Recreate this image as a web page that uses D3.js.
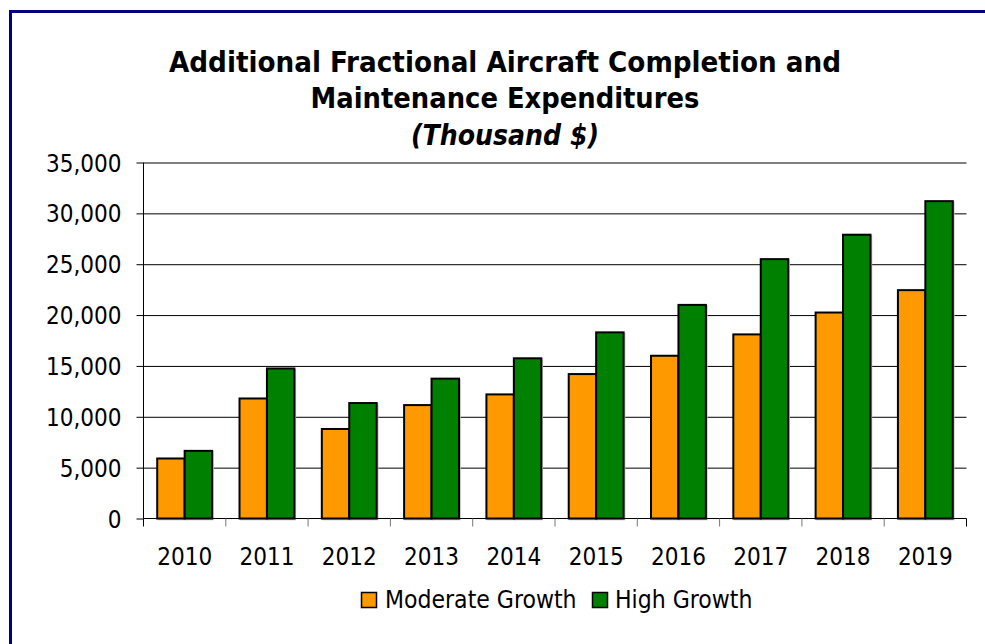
<!DOCTYPE html>
<html>
<head>
<meta charset="utf-8">
<script src="https://cdn.jsdelivr.net/npm/d3@7"></script>
<style>
  html, body { margin: 0; padding: 0; background: #fff; }
  svg { display: block; }
  text { font-family: "DejaVu Sans Condensed", "DejaVu Sans", sans-serif; fill: #000; }
</style>
</head>
<body>
<div id="chart"></div>
<script>
const years = ["2010", "2011", "2012", "2013", "2014", "2015", "2016", "2017", "2018", "2019"];
const seriesNames = ["Moderate Growth", "High Growth"];
const moderate = [5900, 11800, 8800, 11150, 12200, 14200, 16000, 18100, 20250, 22450];
const high = [6650, 14750, 11350, 13750, 15750, 18300, 21000, 25500, 27900, 31200];
const yTicks = [0, 5000, 10000, 15000, 20000, 25000, 30000, 35000];
const titleLines = ["Additional Fractional Aircraft Completion and", "Maintenance Expenditures", "(Thousand $)"];
const colors = ["#FF9900", "#008000"];

const WIDTH = 985, HEIGHT = 644;
const plot = { left: 143.5, right: 966.5, top: 162.5, bottom: 518.5 };

const svg = d3.select("#chart").append("svg")
  .attr("width", WIDTH).attr("height", HEIGHT).attr("viewBox", `0 0 ${WIDTH} ${HEIGHT}`);

// frame (top + left edge only, navy)
svg.append("path")
  .attr("d", `M10.5,${HEIGHT + 2} V11.5 H${WIDTH + 2}`)
  .attr("fill", "none").attr("stroke", "#000080").attr("stroke-width", 3);

// title, each line sized to the width it has in the picture
const titleCx = 505;
const titleSpecs = [
  { y: 72, w: 672, style: "normal" },
  { y: 108, w: 389, style: "normal" },
  { y: 145, w: 188, style: "italic" }
];
titleLines.forEach((t, i) => {
  const s = titleSpecs[i];
  const txt = svg.append("text").attr("x", titleCx).attr("y", s.y)
    .attr("text-anchor", "middle").style("font-weight", "bold").style("font-style", s.style)
    .style("font-size", "26px").text(t);
  const len = txt.node().getComputedTextLength();
  txt.style("font-size", (26 * s.w / len).toFixed(2) + "px");
});

const x = d3.scaleBand().domain(years).range([plot.left, plot.right]).padding(0);
const x1 = d3.scaleBand().domain(seriesNames).range([0, x.bandwidth()]).paddingInner(0).paddingOuter(0.5);
const y = d3.scaleLinear().domain([0, 35000]).range([plot.bottom, plot.top]);

// gridlines
svg.append("g").attr("transform", `translate(${plot.left},0)`)
  .call(d3.axisRight(y).tickValues(yTicks.slice(1)).tickSize(plot.right - plot.left).tickFormat(""))
  .call(g => g.select(".domain").remove())
  .call(g => g.selectAll("line").attr("stroke", "#000").attr("stroke-width", 1));

// bars
const rows = years.map((yr, i) => ({ year: yr, values: [moderate[i], high[i]] }));
const groups = svg.append("g").selectAll("g").data(rows).join("g")
  .attr("transform", d => `translate(${x(d.year)},0)`);

groups.selectAll("rect.shadow").data(d => d.values.map((v, j) => ({ s: seriesNames[j], v, j })))
  .join("rect").attr("class", "shadow")
  .attr("x", d => x1(d.s) + 1).attr("y", d => y(d.v) + 1)
  .attr("width", x1.bandwidth()).attr("height", d => y(0) - y(d.v))
  .attr("fill", "none").attr("stroke", "#bbb").attr("stroke-width", 1.5);

groups.selectAll("rect.bar").data(d => d.values.map((v, j) => ({ s: seriesNames[j], v, j })))
  .join("rect").attr("class", "bar")
  .attr("x", d => x1(d.s)).attr("y", d => y(d.v))
  .attr("width", x1.bandwidth()).attr("height", d => y(0) - y(d.v))
  .attr("fill", d => colors[d.j]).attr("stroke", "#000").attr("stroke-width", 2);

// y axis
svg.append("g").attr("transform", `translate(${plot.left},0)`)
  .call(d3.axisLeft(y).tickValues(yTicks).tickSize(7).tickPadding(15).tickFormat(d3.format(",")))
  .call(g => g.select(".domain").attr("d", `M0,${plot.top}V${plot.bottom}`).attr("stroke", "#000"))
  .call(g => g.selectAll("line").attr("stroke", "#000"))
  .call(g => g.selectAll("text").style("font-size", "24px").attr("dy", "0.36em")
    .style("font-family", "'DejaVu Sans Condensed', 'DejaVu Sans', sans-serif"));

// x axis baseline + boundary ticks
const xg = svg.append("g").attr("transform", `translate(0,${plot.bottom})`);
xg.append("line").attr("x1", plot.left).attr("x2", plot.right).attr("stroke", "#000");
xg.selectAll("line.tick").data(years.map(d => x(d)).concat([plot.right]))
  .join("line").attr("class", "tick")
  .attr("x1", d => d).attr("x2", d => d).attr("y1", 0).attr("y2", 8)
  .attr("stroke", (d, i) => (i === 0 || i === years.length) ? "#000" : "#777");

svg.append("g").attr("transform", `translate(0,${plot.bottom})`)
  .call(d3.axisBottom(x).tickSize(0).tickPadding(29))
  .call(g => g.select(".domain").remove())
  .call(g => g.selectAll("text").style("font-size", "24px")
    .style("font-family", "'DejaVu Sans Condensed', 'DejaVu Sans', sans-serif"));

// legend
const legend = svg.append("g");
const legendItems = [
  { name: seriesNames[0], sx: 361.5, tx: 385 },
  { name: seriesNames[1], sx: 592.5, tx: 615 }
];
legendItems.forEach((d, i) => {
  legend.append("rect").attr("x", d.sx).attr("y", 592.5).attr("width", 15).attr("height", 15)
    .attr("fill", colors[i]).attr("stroke", "#000").attr("stroke-width", 1.5);
  legend.append("text").attr("x", d.tx).attr("y", 608).style("font-size", "24.5px").text(d.name);
});
</script>
</body>
</html>
